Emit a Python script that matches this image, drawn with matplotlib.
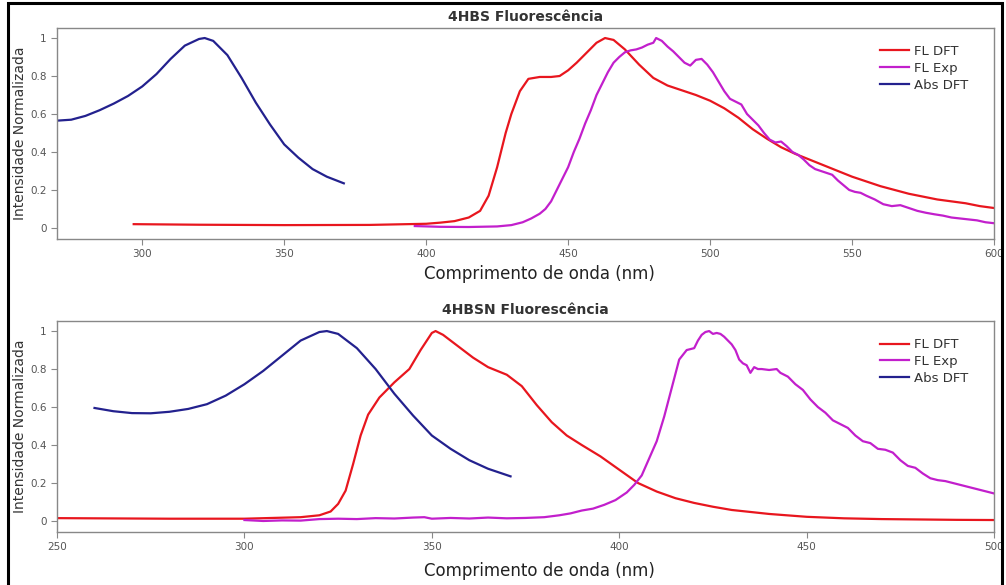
import numpy as np
import matplotlib.pyplot as plt
from matplotlib.patches import Rectangle
from matplotlib.ticker import FuncFormatter

# ---- 4HBS data ----
hbs_abs_x = [270, 275, 280, 285, 290, 295, 300, 305, 310, 315, 320, 322, 325, 330, 335, 340, 345, 350, 355, 360, 365, 371]
hbs_abs_y = [0.565, 0.57, 0.59, 0.62, 0.655, 0.695, 0.745, 0.81, 0.89, 0.96, 0.995, 1.0, 0.985, 0.91, 0.79, 0.66, 0.545, 0.44, 0.37, 0.31, 0.27, 0.235]

hbs_fl_dft_x = [297, 320, 350, 380, 400, 405, 410, 415, 419, 422, 425, 428, 430, 433, 436, 440, 444, 447, 450, 453, 457, 460, 463, 466, 470, 475, 480, 485, 490, 495, 500,
                505, 510, 515, 520, 525, 530, 535, 540, 545, 550, 555, 560, 565, 570, 575, 580, 585, 590, 595, 600]
hbs_fl_dft_y = [0.02, 0.017, 0.015, 0.016, 0.022, 0.028, 0.036, 0.055, 0.09, 0.17, 0.32, 0.5, 0.6, 0.72, 0.785, 0.795, 0.795, 0.8, 0.83, 0.87, 0.93, 0.975, 1.0, 0.99, 0.94, 0.86, 0.79, 0.75, 0.725, 0.7, 0.67,
                0.63, 0.58, 0.52, 0.47, 0.425, 0.39, 0.36, 0.33, 0.3, 0.27, 0.245, 0.22, 0.2, 0.18, 0.165, 0.15, 0.14, 0.13, 0.115, 0.105]

hbs_fl_exp_x = [396, 405, 415, 425, 430, 434, 437, 440, 442, 444, 446, 448, 450, 452, 454, 456, 458, 460, 462, 464, 466, 468, 470, 472, 474, 476, 478, 480, 481,
                483, 485, 487, 489, 491, 493, 495, 497, 499, 501, 503, 505, 507, 509, 511, 513, 515, 517, 519, 521, 523, 525, 527, 529, 531, 533, 535, 537, 539,
                541, 543, 545, 547, 549, 551, 553, 555, 558, 561, 564, 567, 570, 573, 576, 579, 582, 585, 588, 591, 594, 597, 600]
hbs_fl_exp_y = [0.01, 0.006, 0.005, 0.008, 0.015, 0.03, 0.05, 0.075, 0.1, 0.14, 0.2, 0.26, 0.32, 0.4, 0.47, 0.55, 0.62, 0.7, 0.76, 0.82, 0.87, 0.9, 0.925, 0.935, 0.94, 0.95, 0.965, 0.975, 1.0,
                0.985, 0.955, 0.93, 0.9, 0.87, 0.855, 0.885, 0.89, 0.86, 0.82, 0.77, 0.72, 0.68, 0.665, 0.65, 0.6, 0.57, 0.54, 0.5, 0.465, 0.45, 0.455, 0.43, 0.4, 0.385, 0.36, 0.33, 0.31, 0.3,
                0.29, 0.28, 0.25, 0.225, 0.2, 0.19, 0.185, 0.17, 0.15, 0.125, 0.115, 0.12, 0.105, 0.09, 0.08, 0.072, 0.065, 0.055, 0.05, 0.045, 0.04, 0.03, 0.025]

# ---- 4HBSN data ----
hbsn_abs_x = [260, 265, 270, 275, 280, 285, 290, 295, 300, 305, 310, 315, 320, 322, 325, 330, 335, 340, 345, 350, 355, 360, 365, 371]
hbsn_abs_y = [0.595, 0.578, 0.568, 0.567, 0.575, 0.59, 0.615, 0.66, 0.72, 0.79, 0.87, 0.95, 0.995, 1.0, 0.985, 0.91, 0.8, 0.67, 0.555, 0.45, 0.38, 0.32, 0.275, 0.235]

hbsn_fl_dft_x = [250, 280, 300, 315, 320, 323, 325, 327, 329, 331, 333, 336, 340, 344, 347, 350, 351, 353, 357, 361, 365, 370, 374, 378, 382, 386, 390, 395, 400,
                 405, 410, 415, 420, 425, 430, 440, 450, 460, 470, 480, 490, 500]
hbsn_fl_dft_y = [0.015, 0.012, 0.012, 0.02, 0.03, 0.05, 0.09, 0.16, 0.3, 0.45, 0.56, 0.65, 0.73, 0.8, 0.9, 0.99, 1.0, 0.98, 0.92, 0.86, 0.81, 0.77, 0.71, 0.61, 0.52, 0.45, 0.4, 0.34, 0.27,
                 0.2, 0.155, 0.12, 0.095, 0.075, 0.058, 0.037, 0.022, 0.014, 0.01, 0.008, 0.006, 0.005]

hbsn_fl_exp_x = [300, 305, 310, 315, 320, 325, 330, 335, 340, 345, 348, 350, 355, 360, 365, 370, 375, 380, 384, 387, 390, 393, 396, 399, 402, 404, 406, 408, 410,
                 412, 414, 416, 418, 420, 421, 422, 423, 424, 425, 426, 427, 428, 430, 431, 432, 433, 434, 435, 436, 437, 438, 440, 442, 443, 445, 447, 449, 451,
                 453, 455, 457, 459, 461, 463, 465, 467, 469, 471, 473, 475, 477, 479, 481, 483, 485, 487, 489, 491, 493, 495, 497, 499, 500]
hbsn_fl_exp_y = [0.005, 0.0, 0.003, 0.002, 0.01, 0.012, 0.01, 0.015, 0.013, 0.018, 0.02, 0.012, 0.016, 0.013, 0.018, 0.014, 0.016, 0.02, 0.03, 0.04, 0.055, 0.065, 0.085, 0.11, 0.15, 0.19, 0.24, 0.33, 0.42,
                 0.55, 0.7, 0.85, 0.9, 0.91, 0.95, 0.98, 0.995, 1.0, 0.985, 0.99, 0.985, 0.97, 0.93, 0.9, 0.85, 0.83, 0.82, 0.78, 0.81, 0.8, 0.8, 0.795, 0.8, 0.78, 0.76, 0.72, 0.69, 0.64,
                 0.6, 0.57, 0.53, 0.51, 0.49, 0.45, 0.42, 0.41, 0.38, 0.375, 0.36, 0.32, 0.29, 0.28, 0.25, 0.225, 0.215, 0.21, 0.2, 0.19, 0.18, 0.17, 0.16, 0.15, 0.145]

red = '#e8161e'
purple = '#c21fcc'
navy = '#23218e'
spine_gray = '#888888'
text_gray = '#555555'

fig = plt.figure(figsize=(10.06, 5.85), dpi=100)

# axes boxes in figure fractions
boxes = [[0.0567, 0.5915, 0.9314, 0.3607], [0.0567, 0.0906, 0.9314, 0.3607]]
titles = ['4HBS Fluorescência', '4HBSN Fluorescência']
xlims = [(270, 600), (250, 500)]
xlabel_y = [-0.123, -0.142]
data = [
    (hbs_fl_dft_x, hbs_fl_dft_y, hbs_fl_exp_x, hbs_fl_exp_y, hbs_abs_x, hbs_abs_y),
    (hbsn_fl_dft_x, hbsn_fl_dft_y, hbsn_fl_exp_x, hbsn_fl_exp_y, hbsn_abs_x, hbsn_abs_y),
]

for box, title, xlim, ly, d in zip(boxes, titles, xlims, xlabel_y, data):
    ax = fig.add_axes(box)
    ax.plot(d[0], d[1], color=red, lw=1.6, label='FL DFT')
    ax.plot(d[2], d[3], color=purple, lw=1.6, label='FL Exp')
    ax.plot(d[4], d[5], color=navy, lw=1.6, label='Abs DFT')
    ax.set_xlim(*xlim)
    ax.set_ylim(-0.058, 1.053)
    ax.set_yticks([0, 0.2, 0.4, 0.6, 0.8, 1])
    ax.yaxis.set_major_formatter(FuncFormatter(lambda v, p: '%g' % v))
    ax.xaxis.set_major_locator(plt.MultipleLocator(50))
    for s in ax.spines.values():
        s.set_color(spine_gray)
        s.set_linewidth(1.0)
    ax.tick_params(colors=spine_gray, labelcolor=text_gray, labelsize=7.5, length=4, width=0.8)
    ax.set_title(title, fontsize=10, fontweight='bold', color='#333333', pad=5)
    ax.set_xlabel('Comprimento de onda (nm)', fontsize=12, color='#222222')
    ax.xaxis.set_label_coords(0.515, ly)
    ax.set_ylabel('Intensidade Normalizada', fontsize=10, color='#333333')
    ax.yaxis.set_label_coords(-0.032, 0.5)
    ax.legend(loc='upper right', frameon=False, fontsize=9.5, handlelength=2.2,
              handletextpad=0.4, labelspacing=0.3, bbox_to_anchor=(0.985, 0.975),
              labelcolor='#333333')

# black frame around the figure (cropped document border)
fig.patches.append(Rectangle((8 / 1006, -0.05), 994 / 1006, 1.0 - 3 / 585 + 0.05,
                             transform=fig.transFigure, fill=False, lw=2.2,
                             edgecolor='black', zorder=10))

fig.savefig('out.png', dpi=100)
